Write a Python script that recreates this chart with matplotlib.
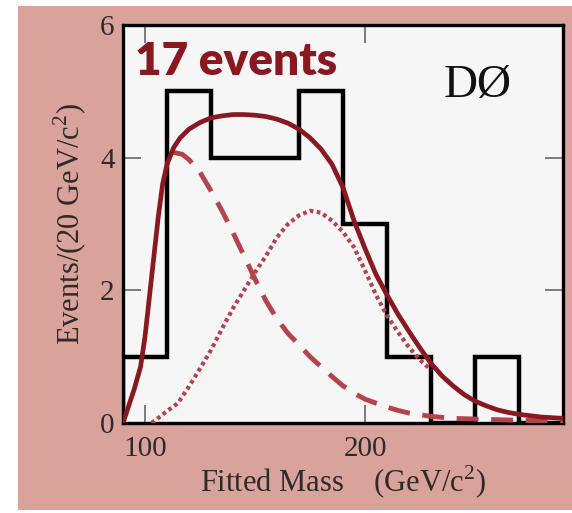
import numpy as np
import matplotlib.pyplot as plt
from matplotlib.patches import Rectangle

# histogram (events per 20 GeV/c^2)
bin_edges = [90, 110, 130, 150, 170, 190, 210, 230, 250, 270, 290]
counts = [1, 5, 4, 4, 5, 3, 1, 0, 1, 0]

# total fit (solid)
fit_x = [90, 92, 95, 98, 100, 102, 104, 106, 108, 110, 113, 116, 120, 125, 130, 135, 140, 145,
         150, 155, 160, 165, 170, 175, 180, 185, 190, 195, 200, 205, 210, 215, 220, 225, 230,
         235, 240, 245, 250, 255, 260, 265, 270, 275, 280, 285, 290]
fit_y = [0.0, 0.2, 0.5, 0.85, 1.3, 1.9, 2.5, 3.1, 3.6, 3.9, 4.15, 4.3, 4.43, 4.53, 4.6, 4.63,
         4.65, 4.65, 4.64, 4.62, 4.58, 4.52, 4.43, 4.3, 4.13, 3.9, 3.55, 3.05, 2.63, 2.24, 1.93,
         1.64, 1.38, 1.13, 0.9, 0.71, 0.56, 0.43, 0.33, 0.26, 0.2, 0.16, 0.13, 0.11, 0.09, 0.08, 0.07]

# background (dashed)
bkg_x = [113, 117, 120, 125, 130, 135, 140, 145, 150, 155, 160, 165, 170, 175, 180, 185, 190,
         195, 200, 205, 210, 215, 220, 230, 240, 250, 270, 290]
bkg_y = [4.08, 4.05, 3.97, 3.78, 3.5, 3.2, 2.87, 2.52, 2.17, 1.84, 1.57, 1.35, 1.18, 1.0, 0.85,
         0.7, 0.56, 0.45, 0.36, 0.3, 0.24, 0.19, 0.15, 0.1, 0.07, 0.06, 0.04, 0.03]

# signal (dotted)
sig_x = [103, 107, 110, 115, 120, 125, 130, 135, 140, 145, 150, 155, 160, 165, 170, 175, 180,
         185, 190, 195, 200, 205, 210, 215, 220, 225, 230]
sig_y = [0.0, 0.1, 0.18, 0.3, 0.55, 0.82, 1.1, 1.42, 1.73, 2.0, 2.27, 2.52, 2.8, 3.0, 3.13, 3.2,
         3.17, 3.05, 2.88, 2.65, 2.3, 1.93, 1.62, 1.37, 1.14, 0.95, 0.8]

dark_red = "#8a1820"
light_red = "#b5434c"
serif = "Liberation Serif"
text_col = "#2e2a2a"

plt.rcParams["mathtext.fontset"] = "custom"
plt.rcParams["mathtext.rm"] = serif

fig = plt.figure(figsize=(5.72, 5.13), dpi=100, facecolor="white")
fig.add_artist(Rectangle((18 / 572, 1 - 510 / 513), 1, 504 / 513,
                         transform=fig.transFigure, facecolor="#d9a39c",
                         edgecolor="none", zorder=-10))

ax = fig.add_axes([123 / 572, 1 - 423 / 513, 440 / 572, 398 / 513])
ax.set_facecolor("#f6f6f6")

ax.stairs(counts, bin_edges, color="black", linewidth=3.2, zorder=2)
ax.plot(bkg_x, bkg_y, color=light_red, linewidth=3.5, linestyle=(0, (4.5, 2.6)), zorder=3)
ax.plot(sig_x, sig_y, color=light_red, linewidth=3.0, linestyle=(0, (0.9, 0.8)), zorder=3)
ax.plot(fit_x, fit_y, color=dark_red, linewidth=3.4, zorder=4)

ax.set_xlim(90, 290)
ax.set_ylim(0, 6)
ax.set_xticks([100, 200])
ax.set_yticks([0, 2, 4, 6])

ax.tick_params(direction="in", length=13, width=1.2, color="#666666",
               top=True, right=True, labelsize=21, labelcolor=text_col)
ax.tick_params(axis="x", pad=9)
ax.tick_params(axis="y", pad=6)
for lab in ax.get_xticklabels() + ax.get_yticklabels():
    lab.set_family(serif)
for sp in ax.spines.values():
    sp.set_linewidth(2.4)
    sp.set_color("black")

ax.set_xlabel("Fitted Mass    (GeV/c$^{2}$)", family=serif, fontsize=22,
              color=text_col, labelpad=2)
ax.set_ylabel("Events/(20 GeV/c$^{2}$)", family=serif, fontsize=22,
              color=text_col, labelpad=8)

ax.text(0.028, 0.96, "17 events", transform=ax.transAxes, family="Lato",
        fontweight="heavy", fontsize=33, color=dark_red, va="top", ha="left", zorder=5)
ax.text(0.807, 0.847, "DØ", transform=ax.transAxes, family=serif,
        fontsize=34, color="#111111", va="center", ha="center", zorder=5)

fig.savefig("out.png", dpi=100, facecolor=fig.get_facecolor())
